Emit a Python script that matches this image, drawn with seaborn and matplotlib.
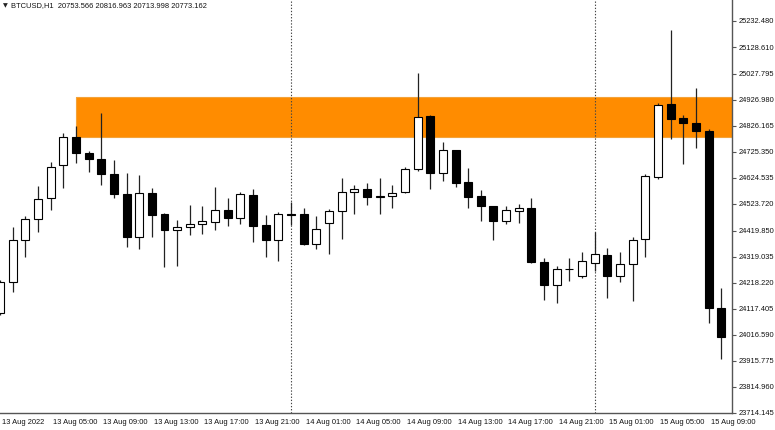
import numpy as np
import pandas as pd
import matplotlib
matplotlib.use("Agg")
import matplotlib.pyplot as plt
import matplotlib.transforms as mtransforms
from matplotlib import font_manager
import seaborn as sns

sns.set_theme(style="white")

installed = {f.name for f in font_manager.fontManager.ttflist}
if "Liberation Sans Narrow" in installed:
    label_font, label_size = "Liberation Sans Narrow", 6.6
else:
    label_font, label_size = "Liberation Sans", 5.4
plt.rcParams["font.family"] = [label_font, "DejaVu Sans"]

# ── DATA ─────────────────────────────────────────────────────
times = pd.date_range("2022-08-13 01:00", periods=58, freq="h")

opens = [24102, 24222, 24384, 24465, 24547, 24674, 24783, 24721, 24697, 24639,
         24562, 24396, 24566, 24485, 24423, 24432, 24446, 24454, 24500, 24469,
         24558, 24442, 24384, 24483, 24485, 24369, 24450, 24496, 24571, 24581,
         24551, 24553, 24569, 24659, 24864, 24642, 24730, 24609, 24552, 24517,
         24458, 24495, 24508, 24299, 24210, 24270, 24245, 24296, 24327, 24244,
         24290, 24389, 24627, 24909, 24857, 24836, 24807, 24120]

highs = [24230, 24435, 24477, 24593, 24686, 24798, 24825, 24728, 24875, 24694,
         24643, 24636, 24585, 24489, 24462, 24520, 24516, 24589, 24547, 24570,
         24581, 24481, 24493, 24529, 24508, 24477, 24504, 24624, 24597, 24605,
         24624, 24597, 24665, 25029, 24868, 24763, 24732, 24662, 24576, 24517,
         24516, 24523, 24546, 24312, 24284, 24314, 24338, 24414, 24352, 24337,
         24395, 24639, 24915, 25196, 24869, 24971, 24812, 24196]

lows = [24094, 24183, 24319, 24415, 24500, 24585, 24682, 24647, 24597, 24547,
        24357, 24349, 24396, 24280, 24284, 24404, 24407, 24423, 24438, 24446,
        24377, 24319, 24303, 24442, 24366, 24349, 24330, 24388, 24485, 24520,
        24485, 24508, 24566, 24651, 24580, 24611, 24590, 24507, 24458, 24383,
        24446, 24449, 24296, 24152, 24139, 24226, 24236, 24262, 24159, 24221,
        24146, 24317, 24621, 24776, 24678, 24741, 24062, 23923]

closes = [24222, 24384, 24465, 24543, 24667, 24783, 24721, 24697, 24639, 24562,
          24396, 24566, 24481, 24423, 24435, 24446, 24458, 24500, 24469, 24562,
          24438, 24384, 24485, 24481, 24369, 24427, 24496, 24570, 24580, 24551,
          24552, 24566, 24658, 24861, 24642, 24731, 24605, 24551, 24517, 24458,
          24498, 24507, 24299, 24210, 24271, 24272, 24304, 24328, 24244, 24290,
          24385, 24632, 24905, 24852, 24837, 24807, 24119, 24009]

# supply zone (orange box) starts at the 13 Aug 07:00 bar
zone_low, zone_high = 24784, 24938
zone_start = "2022-08-13 07:00"

ytick_values = [23714.145, 23814.960, 23915.775, 24016.590, 24117.405,
                24218.220, 24319.035, 24419.850, 24523.720, 24624.535,
                24725.350, 24826.165, 24926.980, 25027.795, 25128.610,
                25232.480]

title_text = "BTCUSD,H1  20753.566 20816.963 20713.998 20773.162"

df = pd.DataFrame({"time": times, "open": opens, "high": highs,
                   "low": lows, "close": closes})
df["x"] = np.arange(len(df))
df["up"] = df["close"] >= df["open"]

# ── FIGURE ───────────────────────────────────────────────────
fig = plt.figure(figsize=(7.75, 4.3), dpi=100)
ax = fig.add_axes([0, 17 / 430, 732 / 775, 413 / 430])

# zone
zx = df.loc[df["time"] == pd.Timestamp(zone_start), "x"].iloc[0]
ax.fill_between([zx, len(df) + 5], zone_low, zone_high,
                color="#FF8C00", edgecolor="#F3A33A", linewidth=0.8, zorder=1)

# day separators
for day in ["2022-08-14 00:00", "2022-08-15 00:00"]:
    dx = df.loc[df["time"] == pd.Timestamp(day), "x"].iloc[0]
    ax.axvline(dx, color="#444444", linestyle=(0, (1.2, 1.6)),
               linewidth=0.8, zorder=2)

# wicks
ax.vlines(df["x"], df["low"], df["high"], color="#222222",
          linewidth=0.9, zorder=3)

# bodies
body_bottom = df[["open", "close"]].min(axis=1)
body_height = (df["close"] - df["open"]).abs().clip(lower=0.5)
ax.bar(df["x"], body_height, bottom=body_bottom, width=0.63,
       color=np.where(df["up"], "white", "black"),
       edgecolor="black", linewidth=0.8, zorder=4)

ax.set_xlim(0.03, 57.85)
ax.set_ylim(23714.1, 25312.3)

# axes / spines
sns.despine(ax=ax, left=True, top=True, right=False, bottom=False)
for side in ["right", "bottom"]:
    ax.spines[side].set_color("#555555")
    ax.spines[side].set_linewidth(1.0)

ax.yaxis.tick_right()
ax.set_yticks(ytick_values)
ax.set_yticklabels([f"{v:.3f}" for v in ytick_values])
ax.tick_params(axis="y", direction="out", length=3, width=0.8,
               color="#555555", pad=2, labelsize=label_size, labelcolor="#111111")

xt = list(range(0, len(df), 4))
xlabels = []
for i in xt:
    t = df["time"].iloc[i]
    if i == 0:
        xlabels.append(t.strftime("%d %b %Y"))
    else:
        xlabels.append(t.strftime("%d %b %H:%M"))
ax.set_xticks(xt)
ax.set_xticklabels(xlabels)
ax.tick_params(axis="x", direction="out", length=3, width=0.8,
               color="#555555", pad=1.5, labelsize=label_size, labelcolor="#111111")
offset = mtransforms.ScaledTranslation(2 / 100, 0, fig.dpi_scale_trans)
for lab in ax.get_xticklabels():
    lab.set_horizontalalignment("left")
    lab.set_transform(lab.get_transform() + offset)

ax.grid(False)
ax.set_facecolor("white")

fig.text(3 / 775, 1 - 6 / 430, "\u25BC", fontsize=4.5, va="center",
         ha="left", color="#222222", family=["DejaVu Sans"])
fig.text(11 / 775, 1 - 6 / 430, title_text, fontsize=label_size, va="center",
         ha="left", color="#111111")

plt.savefig("out.png", dpi=100)
